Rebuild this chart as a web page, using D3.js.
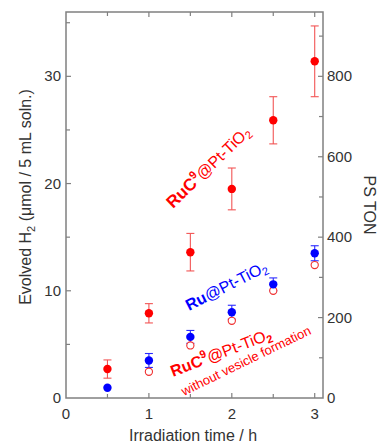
<!DOCTYPE html>
<html>
<head>
<meta charset="utf-8">
<script src="https://cdn.jsdelivr.net/npm/d3@7"></script>
<style>
  body { margin: 0; background: #fff; }
  svg { display: block; font-family: "Liberation Sans", Arial, sans-serif; }
</style>
</head>
<body>
<div id="chart"></div>
<script>
// irradiation time (h)
const times = [0.5, 1, 1.5, 2, 2.5, 3];
// RuC9@Pt-TiO2 (vesicles), evolved H2 in umol
const rucVes = [2.7, 7.9, 13.6, 19.5, 25.9, 31.4];
const rucVesErr = [0.85, 0.9, 1.75, 1.95, 2.2, 3.3];
// Ru@Pt-TiO2
const ru = [0.95, 3.5, 5.7, 8.0, 10.6, 13.5];
const ruErr = [0, 0.65, 0.6, 0.65, 0.6, 0.7];
// RuC9@Pt-TiO2 without vesicle formation
const rucNoVes = [null, 2.45, 4.9, 7.2, 10.0, 12.4];

const xTicks = [0, 1, 2, 3];
const yTicks = [0, 10, 20, 30];
const tonTicks = [0, 200, 400, 600, 800];

const W = 381, H = 447;
const svg = d3.select('#chart').append('svg').attr('width', W).attr('height', H);

const x = d3.scaleLinear().domain([0, 3.1]).range([66, 323]);
const y = d3.scaleLinear().domain([0, 36]).range([398, 12]);
const yTon = d3.scaleLinear().domain([0, 960]).range([398, 12]);

const axisCol = '#808080';
const textCol = '#333';

// frame
svg.append('rect')
  .attr('x', x(0)).attr('y', y(36))
  .attr('width', x(3.1) - x(0)).attr('height', y(0) - y(36))
  .attr('fill', 'none').attr('stroke', axisCol).attr('stroke-width', 1.5);

// ticks, all pointing inward
const tickG = svg.append('g').attr('stroke', axisCol).attr('stroke-width', 1.2);
d3.range(0.5, 3.01, 0.5).forEach(t => {
  const len = Number.isInteger(t) ? 5 : 4;
  tickG.append('line').attr('x1', x(t)).attr('x2', x(t)).attr('y1', y(0)).attr('y2', y(0) - len);
  tickG.append('line').attr('x1', x(t)).attr('x2', x(t)).attr('y1', y(36)).attr('y2', y(36) + len);
});
d3.range(5, 36, 5).forEach(v => {
  const len = v % 10 === 0 ? 5 : 4;
  tickG.append('line').attr('x1', x(0)).attr('x2', x(0) + len).attr('y1', y(v)).attr('y2', y(v));
});
d3.range(100, 960, 100).forEach(v => {
  const len = v % 200 === 0 ? 5 : 4;
  tickG.append('line').attr('x1', x(3.1)).attr('x2', x(3.1) - len).attr('y1', yTon(v)).attr('y2', yTon(v));
});

// tick labels
svg.append('g').selectAll('text').data(xTicks).join('text')
  .attr('x', d => x(d)).attr('y', 419)
  .attr('text-anchor', 'middle').attr('font-size', 15).attr('fill', textCol)
  .text(d => d);
svg.append('g').selectAll('text').data(yTicks).join('text')
  .attr('x', 61).attr('y', d => y(d) + 5)
  .attr('text-anchor', 'end').attr('font-size', 15).attr('fill', textCol)
  .text(d => d);
svg.append('g').selectAll('text').data(tonTicks).join('text')
  .attr('x', 327).attr('y', d => yTon(d) + 5)
  .attr('text-anchor', 'start').attr('font-size', 15).attr('fill', textCol)
  .text(d => d);

// axis titles
svg.append('text')
  .attr('x', 193).attr('y', 441)
  .attr('text-anchor', 'middle').attr('font-size', 16).attr('fill', textCol)
  .text('Irradiation time / h');

const yl = svg.append('text')
  .attr('transform', 'translate(31,197) rotate(-90)')
  .attr('text-anchor', 'middle').attr('font-size', 16).attr('fill', textCol);
yl.append('tspan').text('Evolved H');
yl.append('tspan').attr('font-size', 11).attr('dy', 4).text('2');
yl.append('tspan').attr('dy', -4).text(' (\u03bcmol / 5 mL soln.)');

svg.append('text')
  .attr('transform', 'translate(364,205) rotate(90)')
  .attr('text-anchor', 'middle').attr('font-size', 16).attr('fill', textCol)
  .text('PS TON');

// data
const pts = (vals, errs) => times.map((t, i) => ({ t, v: vals[i], e: errs ? errs[i] : 0 }))
  .filter(d => d.v != null);

function errorBars(data, color) {
  const g = svg.append('g').attr('stroke', color).attr('stroke-width', 1.1).attr('fill', 'none');
  data.filter(d => d.e > 0).forEach(d => {
    const cx = x(d.t), y1 = y(d.v + d.e), y2 = y(d.v - d.e);
    g.append('line').attr('x1', cx).attr('x2', cx).attr('y1', y1).attr('y2', y2);
    g.append('line').attr('x1', cx - 4).attr('x2', cx + 4).attr('y1', y1).attr('y2', y1);
    g.append('line').attr('x1', cx - 4).attr('x2', cx + 4).attr('y1', y2).attr('y2', y2);
  });
}

const redPts = pts(rucVes, rucVesErr);
const bluePts = pts(ru, ruErr);
const openPts = pts(rucNoVes);

errorBars(redPts, '#f25555');
errorBars(bluePts, '#2a2aff');

svg.append('g').selectAll('circle').data(openPts).join('circle')
  .attr('cx', d => x(d.t)).attr('cy', d => y(d.v)).attr('r', 3.6)
  .attr('fill', '#fff').attr('stroke', '#f03030').attr('stroke-width', 1.1);

svg.append('g').selectAll('circle').data(bluePts).join('circle')
  .attr('cx', d => x(d.t)).attr('cy', d => y(d.v)).attr('r', 4.2)
  .attr('fill', '#0000ff');

svg.append('g').selectAll('circle').data(redPts).join('circle')
  .attr('cx', d => x(d.t)).attr('cy', d => y(d.v)).attr('r', 4.2)
  .attr('fill', '#ff0000');

// annotations
function label(px, py, angle, color, parts) {
  const t = svg.append('text')
    .attr('transform', `translate(${px},${py}) rotate(${angle})`)
    .attr('fill', color);
  parts.forEach(p => {
    const s = t.append('tspan').attr('font-size', p.size).text(p.text);
    if (p.bold) s.attr('font-weight', 'bold');
    if (p.dy) s.attr('dy', p.dy);
  });
  return t;
}

label(173, 209, -44, '#ff0000', [
  { text: 'RuC', size: 17, bold: true },
  { text: '9', size: 11, bold: true, dy: -7 },
  { text: '@Pt-TiO', size: 16, dy: 7 },
  { text: '2', size: 11, dy: 3 }
]);

label(189, 311, -27, '#0000ff', [
  { text: 'Ru', size: 16, bold: true },
  { text: '@Pt-TiO', size: 16 },
  { text: '2', size: 11, dy: 3 }
]);

label(173, 377, -21, '#ff0000', [
  { text: 'RuC', size: 16, bold: true },
  { text: '9', size: 11, bold: true, dy: -7 },
  { text: '@Pt-TiO', size: 16, dy: 7 },
  { text: '2', size: 11, bold: true, dy: 3 }
]);

label(184, 396, -26, '#ff0000', [
  { text: 'without vesicle formation', size: 13 }
]);
</script>
</body>
</html>
